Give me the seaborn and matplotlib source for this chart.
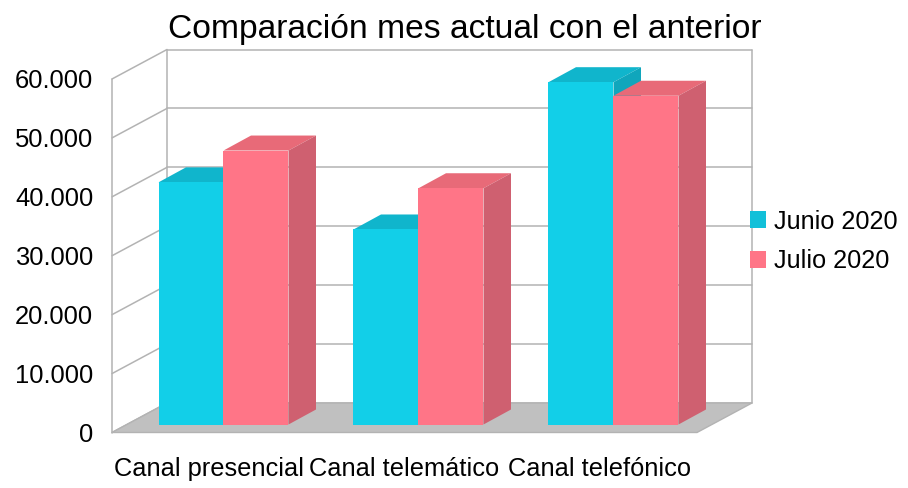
import matplotlib
matplotlib.use("Agg")
import matplotlib.pyplot as plt
import seaborn as sns
import pandas as pd
from matplotlib.patches import Polygon, Patch
from matplotlib.lines import Line2D
from matplotlib.transforms import Affine2D

categories = ["Canal presencial", "Canal telemático", "Canal telefónico"]
junio = [41100, 33100, 58100]
julio = [46500, 40100, 55800]
series_names = ["Junio 2020", "Julio 2020"]
y_ticks = [0, 10000, 20000, 30000, 40000, 50000, 60000]
y_tick_labels = ["0", "10.000", "20.000", "30.000", "40.000", "50.000", "60.000"]
title = "Comparación mes actual con el anterior"

front_colors = ["#12CFE8", "#FF7587"]
top_colors = ["#10B5CC", "#E86A78"]
side_colors = ["#10A6BC", "#CF6070"]
legend_colors = ["#12C0D9", "#FF7587"]
GRID = "#B3B3B3"
FLOOR = "#C0C0C0"

sns.set_theme(style="white")
plt.rcParams["font.family"] = ["Liberation Sans", "DejaVu Sans"]

W, H = 908, 488
fig = plt.figure(figsize=(W / 100, H / 100), dpi=100)
L, R, T, B = 112.0, 697.0, 79, 432.5
ax = fig.add_axes([L / W, 1 - B / H, (R - L) / W, (B - T) / H])

df = pd.DataFrame({
    "canal": categories * 2,
    "valor": junio + julio,
    "serie": [series_names[0]] * 3 + [series_names[1]] * 3,
})
sns.barplot(data=df, x="canal", y="valor", hue="serie", hue_order=series_names,
            palette=front_colors, width=2 / 3, dodge=True, gap=0, saturation=1,
            linewidth=0, legend=False, ax=ax)

ax.set_xlim(-0.5, 2.5)
ax.set_ylim(0, 60000)
ax.set_xlabel("")
ax.set_ylabel("")
ax.set_yticks(y_ticks, y_tick_labels, fontsize=18.4, color="black")
ax.tick_params(axis="y", length=0, pad=13.5)
ax.tick_params(axis="x", length=0, labelsize=18.3, labelcolor="black", pad=17.5)
for s in ax.spines.values():
    s.set_visible(False)
ax.patch.set_visible(False)

# projection offsets, in pixels
DX, DY = 55.0, 29.5        # depth of the box
BX, BY = 14.0, 8.0         # bars sit midway in the box depth
SX, SY = 27.5, 15.0        # depth of a bar

to_px = ax.transData.transform
back = ax.transData + Affine2D().translate(DX, DY)
id_tr = Affine2D()

# floor
x0, x1 = ax.get_xlim()
(p0x, p0y), (p1x, _) = to_px((x0, 0)), to_px((x1, 0))
floor = [(p0x, p0y), (p1x, p0y), (p1x + DX, p0y + DY), (p0x + DX, p0y + DY)]
ax.add_patch(Polygon(floor, closed=True, fc=FLOOR, ec=GRID, lw=1.0,
                     transform=id_tr, clip_on=False, zorder=1.5))

# walls
lw = 1.1
for v in y_ticks:
    ax.plot([x0, x1], [v, v], transform=back, color=GRID, lw=lw, clip_on=False, zorder=1)
    px, py = to_px((x0, v))
    ax.add_line(Line2D([px, px + DX], [py, py + DY], transform=id_tr, color=GRID, lw=lw,
                       clip_on=False, zorder=1))
ax.plot([x0, x0], [0, 60000], transform=back, color=GRID, lw=lw, clip_on=False, zorder=1)
ax.plot([x1, x1], [0, 60000], transform=back, color=GRID, lw=lw, clip_on=False, zorder=1)
ax.plot([x0, x0], [0, 60000], color=GRID, lw=lw, clip_on=False, zorder=1)

# bars: shift into the box and extrude
bar_shift = ax.transData + Affine2D().translate(BX, BY)
z = 2.0
for k, cont in enumerate(ax.containers):
    for rect in cont:
        xa, xb = rect.get_x(), rect.get_x() + rect.get_width()
        h = rect.get_height()
        (ax_, ay_), (bx_, by_) = to_px((xa, 0)), to_px((xb, h))
        ax_ += BX; bx_ += BX; ay_ += BY; by_ += BY
        top = [(ax_, by_), (bx_, by_), (bx_ + SX, by_ + SY), (ax_ + SX, by_ + SY)]
        side = [(bx_, ay_), (bx_ + SX, ay_ + SY), (bx_ + SX, by_ + SY), (bx_, by_)]
        ax.add_patch(Polygon(top, closed=True, fc=top_colors[k], ec="none",
                             transform=id_tr, clip_on=False, zorder=z))
        ax.add_patch(Polygon(side, closed=True, fc=side_colors[k], ec="none",
                             transform=id_tr, clip_on=False, zorder=z + 0.1))
        rect.set_transform(bar_shift)
        rect.set_clip_on(False)
        rect.set_zorder(z + 0.2)
    z += 1

handles = [Patch(fc=c, ec="none") for c in legend_colors]
ax.legend(handles, series_names, loc="center left", frameon=False,
          bbox_to_anchor=(750 / W, 1 - 241.5 / H), bbox_transform=fig.transFigure,
          fontsize=18.2, labelcolor="black", handlelength=0.64, handleheight=0.64,
          handletextpad=0.32, labelspacing=0.62, borderpad=0, borderaxespad=0)

fig.text(465 / W, 1 - 38 / H, title, fontsize=24.2, ha="center", va="baseline", color="black")

fig.savefig("out.png", dpi=100)
